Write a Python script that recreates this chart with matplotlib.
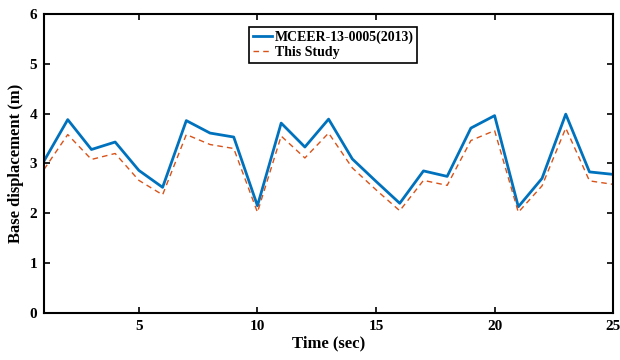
import matplotlib
matplotlib.use("Agg")
import matplotlib.pyplot as plt

plt.rcParams['font.family'] = ['Liberation Serif', 'DejaVu Serif']
plt.rcParams['font.weight'] = 'bold'

time_sec = list(range(1, 26))
mceer = [3.05, 3.88, 3.28, 3.43, 2.86, 2.52, 3.86, 3.61, 3.53, 2.15,
         3.81, 3.33, 3.89, 3.09, 2.64, 2.20, 2.85, 2.74, 3.71, 3.96,
         2.13, 2.70, 3.99, 2.83, 2.78]
this_study = [2.88, 3.58, 3.08, 3.20, 2.66, 2.37, 3.58, 3.38, 3.30, 2.02,
              3.55, 3.11, 3.61, 2.91, 2.47, 2.05, 2.66, 2.56, 3.46, 3.66,
              2.02, 2.55, 3.71, 2.65, 2.58]
x_ticks = [5, 10, 15, 20, 25]
y_ticks = [0, 1, 2, 3, 4, 5, 6]

fig = plt.figure(figsize=(6.2, 3.6), dpi=100)
ax = fig.add_axes([0.071, 0.131, 0.918, 0.830])

ax.plot(time_sec, mceer, color='#0072BD', lw=2.0, label='MCEER-13-0005(2013)')
ax.plot(time_sec, this_study, color='#D95319', lw=1.0, ls=(0, (4, 3)), label='This Study')

ax.set_xlim(1, 25)
ax.set_ylim(0, 6)
ax.set_xticks(x_ticks)
ax.set_yticks(y_ticks)
ax.tick_params(direction='in', top=True, right=True, length=4, width=1.2,
               labelsize=11, pad=5)
for lbl in ax.get_xticklabels() + ax.get_yticklabels():
    lbl.set_fontweight('bold')
for sp in ax.spines.values():
    sp.set_linewidth(1.5)

ax.set_xlabel('Time (sec)', fontsize=12, fontweight='bold', labelpad=2)
ax.set_ylabel('Base displacement (m)', fontsize=12, fontweight='bold', labelpad=4)

leg = ax.legend(loc='upper center', bbox_to_anchor=(0.508, 0.958), fontsize=10,
                frameon=True, fancybox=False, edgecolor='black', framealpha=1,
                handlelength=1.4, handletextpad=0.2, borderpad=0.25,
                labelspacing=0.2, borderaxespad=0)
leg.get_frame().set_linewidth(1.2)
for t in leg.get_texts():
    t.set_fontweight('bold')

fig.savefig('out.png', dpi=100)
